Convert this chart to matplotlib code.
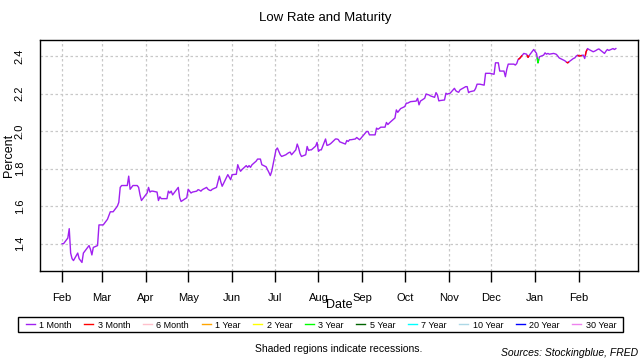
import matplotlib
matplotlib.use("Agg")
import matplotlib.pyplot as plt
import matplotlib.dates as mdates
from matplotlib.lines import Line2D
from matplotlib.patches import Rectangle
import pandas as pd

plt.rcParams["font.family"] = ["Liberation Sans", "DejaVu Sans"]

maturities = ["1 Month", "3 Month", "6 Month", "1 Year", "2 Year", "3 Year",
              "5 Year", "7 Year", "10 Year", "20 Year", "30 Year"]
mat_colors = ["#A020F0", "#FF0000", "#FFC0CB", "#FFA500", "#FFFF00", "#00FF00",
              "#006400", "#00FFFF", "#ADD8E6", "#0000FF", "#EE82EE"]

dates = [
    "2018-02-01", "2018-02-02", "2018-02-05", "2018-02-06", "2018-02-07", "2018-02-08", "2018-02-09",
    "2018-02-12", "2018-02-13", "2018-02-14", "2018-02-15", "2018-02-16", "2018-02-20", "2018-02-21",
    "2018-02-22", "2018-02-23", "2018-02-26", "2018-02-27", "2018-02-28",
    "2018-03-01", "2018-03-02", "2018-03-05", "2018-03-06", "2018-03-07", "2018-03-08", "2018-03-09",
    "2018-03-12", "2018-03-13", "2018-03-14", "2018-03-15", "2018-03-16", "2018-03-19", "2018-03-20",
    "2018-03-21", "2018-03-22", "2018-03-23", "2018-03-26", "2018-03-27", "2018-03-28", "2018-03-29",
    "2018-04-02", "2018-04-03", "2018-04-04", "2018-04-05", "2018-04-06", "2018-04-09", "2018-04-10",
    "2018-04-11", "2018-04-12", "2018-04-13", "2018-04-16", "2018-04-17", "2018-04-18", "2018-04-19",
    "2018-04-20", "2018-04-23", "2018-04-24", "2018-04-25", "2018-04-26", "2018-04-27", "2018-04-30",
    "2018-05-01", "2018-05-02", "2018-05-03", "2018-05-04", "2018-05-07", "2018-05-08", "2018-05-09",
    "2018-05-10", "2018-05-11", "2018-05-14", "2018-05-15", "2018-05-16", "2018-05-17", "2018-05-18",
    "2018-05-21", "2018-05-22", "2018-05-23", "2018-05-24", "2018-05-25", "2018-05-29", "2018-05-30",
    "2018-05-31",
    "2018-06-01", "2018-06-04", "2018-06-05", "2018-06-06", "2018-06-07", "2018-06-08", "2018-06-11",
    "2018-06-12", "2018-06-13", "2018-06-14", "2018-06-15", "2018-06-18", "2018-06-19", "2018-06-20",
    "2018-06-21", "2018-06-22", "2018-06-25", "2018-06-26", "2018-06-27", "2018-06-28", "2018-06-29",
    "2018-07-02", "2018-07-03", "2018-07-05", "2018-07-06", "2018-07-09", "2018-07-10", "2018-07-11",
    "2018-07-12", "2018-07-13", "2018-07-16", "2018-07-17", "2018-07-18", "2018-07-19", "2018-07-20",
    "2018-07-23", "2018-07-24", "2018-07-25", "2018-07-26", "2018-07-27", "2018-07-30", "2018-07-31",
    "2018-08-01", "2018-08-02", "2018-08-03", "2018-08-06", "2018-08-07", "2018-08-08", "2018-08-09",
    "2018-08-10", "2018-08-13", "2018-08-14", "2018-08-15", "2018-08-16", "2018-08-17", "2018-08-20",
    "2018-08-21", "2018-08-22", "2018-08-23", "2018-08-24", "2018-08-27", "2018-08-28", "2018-08-29",
    "2018-08-30", "2018-08-31",
    "2018-09-04", "2018-09-05", "2018-09-06", "2018-09-07", "2018-09-10", "2018-09-11", "2018-09-12",
    "2018-09-13", "2018-09-14", "2018-09-17", "2018-09-18", "2018-09-19", "2018-09-20", "2018-09-21",
    "2018-09-24", "2018-09-25", "2018-09-26", "2018-09-27", "2018-09-28",
    "2018-10-01", "2018-10-02", "2018-10-03", "2018-10-04", "2018-10-05", "2018-10-09", "2018-10-10",
    "2018-10-11", "2018-10-12", "2018-10-15", "2018-10-16", "2018-10-17", "2018-10-18", "2018-10-19",
    "2018-10-22", "2018-10-23", "2018-10-24", "2018-10-25", "2018-10-26", "2018-10-29", "2018-10-30",
    "2018-10-31",
    "2018-11-01", "2018-11-02", "2018-11-05", "2018-11-06", "2018-11-07", "2018-11-08", "2018-11-09",
    "2018-11-13", "2018-11-14", "2018-11-15", "2018-11-16", "2018-11-19", "2018-11-20", "2018-11-21",
    "2018-11-23", "2018-11-26", "2018-11-27", "2018-11-28", "2018-11-29", "2018-11-30",
    "2018-12-03", "2018-12-04", "2018-12-06", "2018-12-07", "2018-12-10", "2018-12-11", "2018-12-12",
    "2018-12-13", "2018-12-14", "2018-12-17", "2018-12-18", "2018-12-19", "2018-12-20", "2018-12-21",
    "2018-12-24", "2018-12-26", "2018-12-27", "2018-12-28", "2018-12-31",
    "2019-01-02", "2019-01-03", "2019-01-04", "2019-01-07", "2019-01-08", "2019-01-09", "2019-01-10",
    "2019-01-11", "2019-01-14", "2019-01-15", "2019-01-16", "2019-01-17", "2019-01-18", "2019-01-22",
    "2019-01-23", "2019-01-24", "2019-01-25", "2019-01-28", "2019-01-29", "2019-01-30", "2019-01-31",
    "2019-02-01", "2019-02-04", "2019-02-05", "2019-02-06", "2019-02-07", "2019-02-08", "2019-02-11",
    "2019-02-12", "2019-02-13", "2019-02-14", "2019-02-15", "2019-02-19", "2019-02-20", "2019-02-21",
    "2019-02-22", "2019-02-25", "2019-02-26", "2019-02-27",
]

low_rate = [
    1.40, 1.40, 1.43, 1.48, 1.35, 1.32, 1.31, 1.35, 1.32, 1.31, 1.30, 1.35, 1.39, 1.37, 1.34, 1.38,
    1.39, 1.50, 1.50,
    1.50, 1.50, 1.53, 1.55, 1.57, 1.57, 1.57, 1.60, 1.62, 1.70, 1.71, 1.71, 1.71, 1.76, 1.69, 1.70,
    1.71, 1.71, 1.70, 1.66, 1.63,
    1.67, 1.70, 1.675, 1.68, 1.68, 1.675, 1.63, 1.65, 1.64, 1.64, 1.64, 1.68, 1.67, 1.68, 1.66, 1.69,
    1.70, 1.645, 1.625, 1.63, 1.645,
    1.69, 1.68, 1.67, 1.675, 1.68, 1.688, 1.685, 1.68, 1.688, 1.70, 1.69, 1.685, 1.683, 1.69, 1.70,
    1.73, 1.76, 1.73, 1.706, 1.768, 1.755, 1.741,
    1.768, 1.77, 1.821, 1.80, 1.786, 1.795, 1.816, 1.807, 1.816, 1.807, 1.82, 1.84, 1.851, 1.851,
    1.851, 1.821, 1.81, 1.795, 1.78, 1.763, 1.786,
    1.90, 1.91, 1.874, 1.865, 1.874, 1.88, 1.885, 1.888, 1.874, 1.90, 1.931, 1.91, 1.88, 1.865,
    1.874, 1.918, 1.897, 1.90, 1.90, 1.92, 1.94,
    1.892, 1.90, 1.90, 1.958, 1.924, 1.926, 1.93, 1.936, 1.958, 1.958, 1.955, 1.943, 1.94, 1.931,
    1.95, 1.945, 1.954, 1.954, 1.958, 1.966, 1.96, 1.954, 1.962,
    1.998, 1.998, 1.98, 1.98, 1.98, 2.016, 2.01, 2.015, 2.021, 2.021, 2.046, 2.035, 2.043, 2.05,
    2.07, 2.113, 2.10, 2.11, 2.12,
    2.131, 2.149, 2.149, 2.153, 2.157, 2.16, 2.175, 2.14, 2.16, 2.175, 2.198, 2.195, 2.193, 2.188,
    2.18, 2.205, 2.193, 2.161, 2.163, 2.166, 2.202, 2.197,
    2.20, 2.202, 2.228, 2.215, 2.21, 2.207, 2.22, 2.237, 2.237, 2.205, 2.21, 2.215, 2.228, 2.25,
    2.25, 2.245, 2.308, 2.308, 2.308, 2.308,
    2.303, 2.364, 2.364, 2.32, 2.32, 2.29, 2.33, 2.357, 2.357, 2.357, 2.352, 2.36, 2.382, 2.387,
    2.414, 2.41, 2.393, 2.405, 2.435,
    2.414, 2.364, 2.396, 2.405, 2.417, 2.41, 2.414, 2.41, 2.414, 2.412, 2.409, 2.40, 2.39, 2.375,
    2.368, 2.364, 2.37, 2.387, 2.39, 2.40, 2.405,
    2.40, 2.405, 2.387, 2.423, 2.44, 2.435, 2.423, 2.426, 2.43, 2.435, 2.438, 2.414, 2.426, 2.435,
    2.43, 2.44, 2.435, 2.44,
]

# days where a maturity other than 1 Month had the lowest rate
other_lowest = {
    "2018-12-21": "3 Month",
    "2018-12-27": "3 Month",
    "2019-01-03": "3 Year",
    "2019-01-24": "3 Month",
    "2019-02-01": "3 Month",
    "2019-02-06": "3 Month",
}

tick_months = pd.date_range("2018-02-01", "2019-02-01", freq="MS")
y_ticks = [1.4, 1.6, 1.8, 2.0, 2.2, 2.4]

x = mdates.date2num(pd.to_datetime(dates))
y = low_rate

fig = plt.figure(figsize=(6.4, 3.6), dpi=100)
ax = fig.add_axes([40 / 640, 89 / 360, 598 / 640, 231 / 360])

ax.plot(x, y, color=mat_colors[0], lw=1.0, zorder=3)
for d, m in other_lowest.items():
    i = dates.index(d)
    c = mat_colors[maturities.index(m)]
    xs = [(x[i - 1] + x[i]) / 2, x[i], (x[i] + x[i + 1]) / 2]
    ys = [(y[i - 1] + y[i]) / 2, y[i], (y[i] + y[i + 1]) / 2]
    ax.plot(xs, ys, color=c, lw=1.0, zorder=4)

span = x[-1] - x[0]
ax.set_xlim(x[0] - 0.04 * span, x[-1] + 0.04 * span)
yspan = max(y) - min(y)
ax.set_ylim(min(y) - 0.04 * yspan, max(y) + 0.04 * yspan)

ax.set_xticks(mdates.date2num(tick_months))
ax.set_xticklabels([t.strftime("%b") for t in tick_months])
ax.set_yticks(y_ticks)
ax.set_yticklabels([f"{v:.1f}" for v in y_ticks], rotation=90, va="center")
ax.tick_params(axis="x", length=7.7, width=1, pad=8, labelsize=8)
ax.tick_params(axis="y", length=0, pad=11, labelsize=8)

ax.grid(color="#c8c8c8", linestyle=(0, (2, 2)), lw=0.9, zorder=0)
for s in ax.spines.values():
    s.set_linewidth(1.0)

fig.text(9 / 640, 1 - 155.5 / 360, "Percent", rotation=90, ha="center", va="center", fontsize=9)
fig.text(339 / 640, 1 - 305 / 360, "Date", ha="center", va="center", fontsize=9)
fig.text(325 / 640, 1 - 18 / 360, "Low Rate and Maturity", ha="center", va="center", fontsize=9.5)

handles = [Line2D([], [], color=c, lw=1.0) for c in mat_colors]
fig.legend(handles, maturities, loc="center", bbox_to_anchor=(321 / 640, 1 - 325 / 360),
           ncol=11, fontsize=6.5, frameon=False, handlelength=1.0, handletextpad=0.5,
           columnspacing=1.38)
fig.patches.append(Rectangle((18 / 640, 1 - 332 / 360), 605 / 640, 15 / 360,
                             transform=fig.transFigure, fill=False, ec="black", lw=1.0))

fig.text(339 / 640, 1 - 349 / 360, "Shaded regions indicate recessions.",
         ha="center", va="center", fontsize=7.5)
fig.text(638 / 640, 1 - 352.5 / 360, "Sources: Stockingblue, FRED",
         ha="right", va="center", fontsize=7.5, style="italic")

fig.savefig("out.png", dpi=100)
